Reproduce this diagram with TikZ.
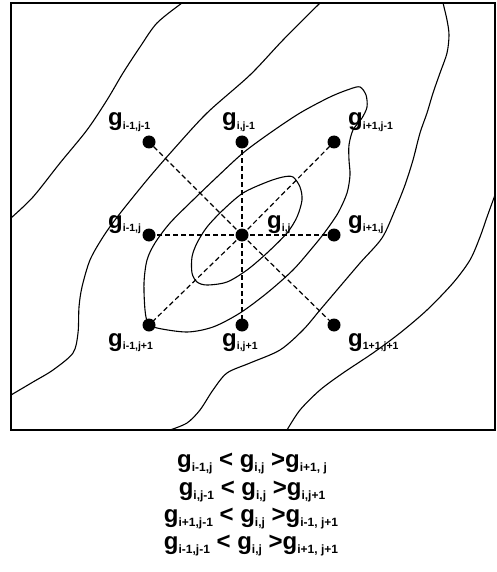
\documentclass[tikz,border=0pt]{standalone}
\usepackage{fontspec}
\setmainfont{Liberation Sans}
\newcommand{\glab}[1]{{\fontsize{24}{24}\selectfont g}\raisebox{-3.5pt}{\fontsize{10.5}{10.5}\selectfont #1}}
\newcommand{\grel}[1]{{\fontsize{24}{24}\selectfont g}\raisebox{-4pt}{\fontsize{12}{12}\selectfont #1}}
\newcommand{\gbig}{\fontsize{24}{24}\selectfont}
\begin{document}
\begin{tikzpicture}[x=1pt,y=-1pt,
  contour/.style={line width=1.1pt},
  dot/.style={circle,fill=black,inner sep=0pt,minimum size=13pt},
  link/.style={line width=1.2pt,dash pattern=on 5pt off 3pt},
  glabel/.style={anchor=base west,inner sep=0pt,font=\bfseries},
  eqline/.style={anchor=base,inner sep=0pt,font=\bfseries\gbig}]
\useasboundingbox (0,0) rectangle (497,572);
\fill[white] (0,0) rectangle (497,572);
% frame
\draw[line width=1.4pt] (11,3) rectangle (495,430);
% contours
\draw[contour] plot[smooth] coordinates {(11,218) (33,197) (60,163) (87,130) (107,100) (123,73) (140,47) (157,23) (182,3)};
\draw[contour] plot[smooth] coordinates {(11,395) (33,382) (53,370) (73,353) (78,333) (79,307) (82,287) (90,260) (103,237) (118,216) (147,180) (173,150) (207,113) (250,75) (283,40) (320,3)};
\draw[contour] plot[smooth cycle] coordinates {(360,87) (366,95) (367,107) (362,118) (353,130) (349,145) (349,160) (350,175) (347,193) (338,213) (325,232) (313,247) (293,270) (267,293) (240,313) (213,327) (187,332) (157,328) (148,323) (145,310) (144,283) (147,260) (155,243) (170,223) (193,200) (217,177) (243,153) (270,133) (300,113) (330,97) (350,89)};
\draw[contour] plot[smooth cycle] coordinates {(293,177) (300,187) (302,200) (297,217) (287,233) (267,253) (247,270) (227,282) (207,285) (197,282) (192,273) (192,257) (197,243) (207,227) (223,210) (243,193) (267,182) (283,177)};
\draw[contour] plot[smooth] coordinates {(443,3) (447,20) (449,35) (447,53) (440,73) (433,93) (427,113) (420,133) (413,160) (405,185) (395,210) (382,238) (360,263) (337,290) (320,310) (303,330) (280,350) (250,363) (227,373) (213,390) (200,410) (187,423) (170,430)};
\draw[contour] plot[smooth] coordinates {(287,430) (300,410) (320,390) (343,373) (373,353) (400,333) (427,310) (453,283) (470,260) (480,237) (487,217) (495,195)};
% grid points
\node[dot] (nw) at (149,142) {};
\node[dot] (n)  at (242,142) {};
\node[dot] (ne) at (334,142) {};
\node[dot] (w)  at (149,235) {};
\node[dot] (c)  at (242,235) {};
\node[dot] (e)  at (334,235) {};
\node[dot] (sw) at (149,325) {};
\node[dot] (s)  at (242,325) {};
\node[dot] (se) at (334,325) {};
\foreach \t in {nw,n,ne,w,e,sw,s,se}{\draw[link] (c.center) -- (\t.center);}
% labels
\node[glabel] (lnw) at (108,126) {\glab{i-1,j-1}};
\node[glabel] (ln)  at (222,126) {\glab{i,j-1}};
\node[glabel] (lne) at (348,126) {\glab{i+1,j-1}};
\node[glabel] (lw)  at (108,228) {\glab{i-1,j}};
\node[glabel] (lc)  at (267,228) {\glab{i,j}};
\node[glabel] (le)  at (348,228) {\glab{i+1,j}};
\node[glabel] (lsw) at (108,346) {\glab{i-1,j+1}};
\node[glabel] (ls)  at (222,346) {\glab{i,j+1}};
\node[glabel] (lse) at (348,346) {\glab{1+1,j+1}};
% relations
\node[eqline] (r1) at (252,467) {\grel{i-1,j} < \grel{i,j} >\grel{i+1, j}};
\node[eqline] (r2) at (252,495) {\grel{i,j-1} < \grel{i,j} >\grel{i,j+1}};
\node[eqline] (r3) at (251,522) {\grel{i+1,j-1} < \grel{i,j} >\grel{i-1, j+1}};
\node[eqline] (r4) at (251,549) {\grel{i-1,j-1} < \grel{i,j} >\grel{i+1, j+1}};
\end{tikzpicture}
\end{document}
